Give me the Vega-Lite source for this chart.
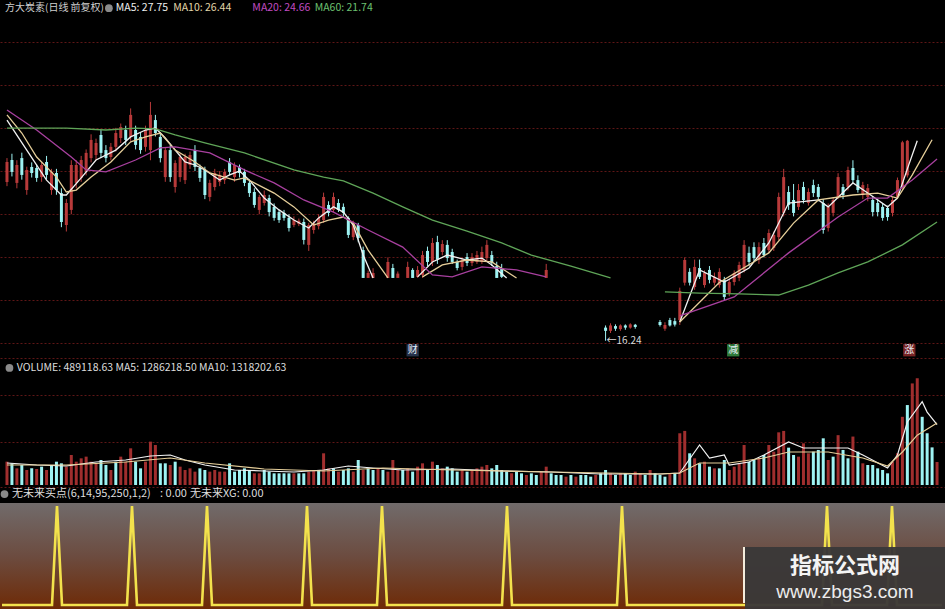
{
"$schema": "https://vega.github.io/schema/vega-lite/v6.json",
"background": "#000000",
"padding": 0,
"spacing": 0,
"config": {"view": {"stroke": null}, "axis": {"minExtent": 0, "maxExtent": 0}, "font": "Noto Sans CJK SC"},
"datasets": {
"bars": [
{"i":0,"o":23.59,"c":24.52,"h":24.7,"l":23.4,"v":496000,"vu":1,"s":0},
{"i":1,"o":24.61,"c":24.06,"h":24.9,"l":23.85,"v":461000,"vu":0,"s":0},
{"i":2,"o":23.55,"c":24.38,"h":24.6,"l":23.3,"v":354000,"vu":1,"s":0},
{"i":3,"o":24.7,"c":23.92,"h":24.95,"l":23.7,"v":425000,"vu":0,"s":0},
{"i":4,"o":23.22,"c":24.15,"h":24.3,"l":23.0,"v":319000,"vu":1,"s":0},
{"i":5,"o":24.29,"c":24.01,"h":24.5,"l":23.8,"v":354000,"vu":0,"s":0},
{"i":6,"o":24.24,"c":23.78,"h":24.4,"l":23.6,"v":340000,"vu":1,"s":0},
{"i":7,"o":23.82,"c":24.38,"h":24.5,"l":23.6,"v":390000,"vu":0,"s":0},
{"i":8,"o":24.52,"c":23.92,"h":24.8,"l":23.7,"v":319000,"vu":1,"s":0},
{"i":9,"o":23.22,"c":24.06,"h":24.2,"l":23.0,"v":425000,"vu":0,"s":0},
{"i":10,"o":24.01,"c":23.22,"h":24.2,"l":23.0,"v":496000,"vu":0,"s":0},
{"i":11,"o":23.08,"c":21.74,"h":23.3,"l":21.5,"v":461000,"vu":0,"s":1},
{"i":12,"o":21.6,"c":22.62,"h":22.8,"l":21.3,"v":390000,"vu":1,"s":0},
{"i":13,"o":22.3,"c":24.38,"h":24.6,"l":22.1,"v":638000,"vu":1,"s":0},
{"i":14,"o":23.55,"c":24.38,"h":24.6,"l":23.3,"v":496000,"vu":1,"s":0},
{"i":15,"o":23.78,"c":24.61,"h":24.8,"l":23.6,"v":567000,"vu":1,"s":0},
{"i":16,"o":24.06,"c":24.94,"h":25.1,"l":23.9,"v":603000,"vu":1,"s":0},
{"i":17,"o":24.7,"c":25.54,"h":25.8,"l":24.5,"v":496000,"vu":1,"s":0},
{"i":18,"o":24.84,"c":25.4,"h":25.6,"l":24.6,"v":461000,"vu":1,"s":0},
{"i":19,"o":25.77,"c":24.94,"h":26.0,"l":24.7,"v":532000,"vu":0,"s":0},
{"i":20,"o":25.07,"c":24.7,"h":25.3,"l":24.5,"v":425000,"vu":0,"s":0},
{"i":21,"o":24.75,"c":25.22,"h":25.4,"l":24.6,"v":319000,"vu":1,"s":0},
{"i":22,"o":25.22,"c":25.86,"h":26.1,"l":25.0,"v":496000,"vu":0,"s":0},
{"i":23,"o":25.63,"c":26.14,"h":26.3,"l":25.4,"v":603000,"vu":1,"s":0},
{"i":24,"o":26.0,"c":25.54,"h":26.2,"l":25.3,"v":496000,"vu":1,"s":0},
{"i":25,"o":25.68,"c":26.7,"h":27.0,"l":25.5,"v":780000,"vu":1,"s":0},
{"i":26,"o":26.0,"c":25.31,"h":26.2,"l":25.1,"v":496000,"vu":0,"s":1},
{"i":27,"o":25.68,"c":25.07,"h":25.9,"l":24.9,"v":354000,"vu":0,"s":0},
{"i":28,"o":25.22,"c":26.0,"h":26.2,"l":25.0,"v":496000,"vu":1,"s":0},
{"i":29,"o":25.07,"c":26.7,"h":27.3,"l":24.6,"v":922000,"vu":1,"s":0},
{"i":30,"o":26.46,"c":25.86,"h":26.7,"l":25.7,"v":851000,"vu":1,"s":0},
{"i":31,"o":25.68,"c":24.7,"h":25.9,"l":24.5,"v":461000,"vu":0,"s":0},
{"i":32,"o":23.82,"c":25.07,"h":25.2,"l":23.6,"v":461000,"vu":0,"s":0},
{"i":33,"o":25.07,"c":23.82,"h":25.3,"l":23.6,"v":425000,"vu":1,"s":0},
{"i":34,"o":23.36,"c":24.47,"h":24.6,"l":23.1,"v":496000,"vu":0,"s":0},
{"i":35,"o":23.82,"c":24.75,"h":24.9,"l":23.6,"v":390000,"vu":1,"s":0},
{"i":36,"o":23.68,"c":24.75,"h":24.9,"l":23.5,"v":319000,"vu":1,"s":0},
{"i":37,"o":24.38,"c":24.84,"h":25.0,"l":24.2,"v":354000,"vu":1,"s":0},
{"i":38,"o":25.07,"c":24.29,"h":25.3,"l":24.1,"v":284000,"vu":1,"s":0},
{"i":39,"o":24.24,"c":23.78,"h":24.4,"l":23.6,"v":354000,"vu":0,"s":0},
{"i":40,"o":24.15,"c":22.99,"h":24.3,"l":22.8,"v":319000,"vu":0,"s":0},
{"i":41,"o":22.9,"c":23.55,"h":23.7,"l":22.7,"v":284000,"vu":1,"s":1},
{"i":42,"o":23.36,"c":24.01,"h":24.2,"l":23.2,"v":319000,"vu":1,"s":0},
{"i":43,"o":23.59,"c":23.92,"h":24.1,"l":23.4,"v":284000,"vu":1,"s":0},
{"i":44,"o":23.68,"c":24.06,"h":24.2,"l":23.5,"v":284000,"vu":1,"s":0},
{"i":45,"o":24.52,"c":24.06,"h":24.7,"l":23.9,"v":461000,"vu":0,"s":0},
{"i":46,"o":23.82,"c":24.38,"h":24.5,"l":23.6,"v":284000,"vu":0,"s":0},
{"i":47,"o":24.29,"c":24.01,"h":24.4,"l":23.8,"v":319000,"vu":0,"s":0},
{"i":48,"o":24.06,"c":23.55,"h":24.2,"l":23.4,"v":354000,"vu":0,"s":0},
{"i":49,"o":23.55,"c":23.08,"h":23.7,"l":22.9,"v":319000,"vu":0,"s":0},
{"i":50,"o":23.13,"c":22.53,"h":23.3,"l":22.4,"v":248000,"vu":1,"s":0},
{"i":51,"o":22.3,"c":22.9,"h":23.0,"l":22.1,"v":248000,"vu":1,"s":0},
{"i":52,"o":22.62,"c":22.99,"h":23.2,"l":22.5,"v":319000,"vu":0,"s":0},
{"i":53,"o":22.85,"c":22.2,"h":23.0,"l":22.0,"v":284000,"vu":0,"s":0},
{"i":54,"o":22.44,"c":21.93,"h":22.6,"l":21.8,"v":248000,"vu":0,"s":0},
{"i":55,"o":22.2,"c":21.83,"h":22.3,"l":21.7,"v":248000,"vu":0,"s":0},
{"i":56,"o":22.16,"c":21.93,"h":22.3,"l":21.8,"v":248000,"vu":0,"s":0},
{"i":57,"o":21.93,"c":21.46,"h":22.1,"l":21.3,"v":248000,"vu":0,"s":0},
{"i":58,"o":21.6,"c":21.83,"h":22.0,"l":21.5,"v":248000,"vu":1,"s":0},
{"i":59,"o":21.65,"c":21.8,"h":21.9,"l":21.55,"v":248000,"vu":0,"s":0},
{"i":60,"o":21.74,"c":20.91,"h":21.9,"l":20.7,"v":248000,"vu":0,"s":0},
{"i":61,"o":20.68,"c":21.6,"h":21.7,"l":20.4,"v":284000,"vu":1,"s":1},
{"i":62,"o":21.37,"c":21.69,"h":21.8,"l":21.2,"v":319000,"vu":1,"s":0},
{"i":63,"o":21.55,"c":21.93,"h":22.1,"l":21.4,"v":319000,"vu":0,"s":0},
{"i":64,"o":21.83,"c":22.9,"h":23.1,"l":21.7,"v":674000,"vu":1,"s":0},
{"i":65,"o":22.53,"c":22.16,"h":22.7,"l":22.0,"v":354000,"vu":1,"s":0},
{"i":66,"o":22.3,"c":22.9,"h":23.1,"l":22.2,"v":354000,"vu":0,"s":0},
{"i":67,"o":22.62,"c":22.3,"h":22.8,"l":22.2,"v":284000,"vu":1,"s":0},
{"i":68,"o":22.44,"c":22.16,"h":22.6,"l":22.0,"v":319000,"vu":0,"s":0},
{"i":69,"o":21.93,"c":21.14,"h":22.0,"l":21.0,"v":354000,"vu":0,"s":0},
{"i":70,"o":21.04,"c":21.69,"h":21.8,"l":20.9,"v":284000,"vu":1,"s":0},
{"i":71,"o":21.6,"c":21.0,"h":21.7,"l":20.8,"v":532000,"vu":0,"s":0},
{"i":72,"o":20.44,"c":19.15,"h":20.6,"l":19.15,"v":319000,"vu":1,"s":0},
{"i":73,"o":19.15,"c":19.38,"h":19.5,"l":19.15,"v":354000,"vu":0,"s":0},
{"i":74,"o":19.15,"c":19.38,"h":19.6,"l":19.15,"v":319000,"vu":0,"s":0},
{"i":75,"v":354000,"vu":1,"s":0},
{"i":76,"v":319000,"vu":0,"s":1},
{"i":77,"o":19.15,"c":19.89,"h":20.1,"l":19.15,"v":284000,"vu":1,"s":0},
{"i":78,"o":19.61,"c":19.15,"h":19.8,"l":19.15,"v":532000,"vu":1,"s":0},
{"i":79,"o":19.15,"c":19.35,"h":19.45,"l":19.15,"v":319000,"vu":1,"s":0},
{"i":80,"v":319000,"vu":0,"s":0},
{"i":81,"o":19.15,"c":19.66,"h":19.9,"l":19.15,"v":354000,"vu":1,"s":0},
{"i":82,"o":19.52,"c":19.15,"h":19.6,"l":19.15,"v":284000,"vu":0,"s":0},
{"i":83,"o":19.2,"c":19.52,"h":19.7,"l":19.15,"v":390000,"vu":1,"s":0},
{"i":84,"o":19.29,"c":20.21,"h":20.4,"l":19.15,"v":461000,"vu":1,"s":0},
{"i":85,"o":20.4,"c":19.89,"h":20.6,"l":19.7,"v":319000,"vu":0,"s":0},
{"i":86,"o":19.89,"c":20.77,"h":21.0,"l":19.7,"v":496000,"vu":1,"s":0},
{"i":87,"o":20.81,"c":20.0,"h":21.1,"l":19.8,"v":425000,"vu":0,"s":0},
{"i":88,"o":20.35,"c":20.72,"h":20.9,"l":20.2,"v":354000,"vu":1,"s":0},
{"i":89,"o":20.68,"c":20.07,"h":20.9,"l":19.9,"v":390000,"vu":0,"s":0},
{"i":90,"o":20.35,"c":19.89,"h":20.5,"l":19.8,"v":354000,"vu":0,"s":0},
{"i":91,"o":19.89,"c":19.61,"h":20.0,"l":19.5,"v":284000,"vu":0,"s":0},
{"i":92,"o":19.66,"c":19.98,"h":20.1,"l":19.5,"v":319000,"vu":1,"s":0},
{"i":93,"o":20.12,"c":19.84,"h":20.3,"l":19.7,"v":284000,"vu":0,"s":0},
{"i":94,"o":19.84,"c":20.12,"h":20.3,"l":19.7,"v":319000,"vu":1,"s":0},
{"i":95,"o":19.89,"c":20.21,"h":20.4,"l":19.8,"v":354000,"vu":1,"s":0},
{"i":96,"o":19.89,"c":20.35,"h":20.6,"l":19.8,"v":390000,"vu":1,"s":0},
{"i":97,"o":20.07,"c":20.68,"h":20.9,"l":19.9,"v":425000,"vu":1,"s":0},
{"i":98,"o":20.21,"c":19.84,"h":20.4,"l":19.7,"v":354000,"vu":0,"s":0},
{"i":99,"o":19.7,"c":19.15,"h":19.9,"l":19.15,"v":425000,"vu":0,"s":0},
{"i":100,"o":19.61,"c":19.2,"h":19.8,"l":19.15,"v":319000,"vu":0,"s":0},
{"i":101,"v":284000,"vu":0,"s":1},
{"i":102,"v":248000,"vu":1,"s":0},
{"i":103,"v":284000,"vu":0,"s":0},
{"i":104,"v":248000,"vu":0,"s":0},
{"i":105,"v":213000,"vu":1,"s":0},
{"i":106,"v":248000,"vu":0,"s":0},
{"i":107,"v":213000,"vu":0,"s":0},
{"i":108,"v":284000,"vu":1,"s":0},
{"i":109,"o":19.15,"c":19.52,"h":19.8,"l":19.15,"v":390000,"vu":1,"s":0},
{"i":110,"v":248000,"vu":0,"s":0},
{"i":111,"v":213000,"vu":0,"s":0},
{"i":112,"v":213000,"vu":0,"s":0},
{"i":113,"v":177000,"vu":1,"s":0},
{"i":114,"v":213000,"vu":0,"s":0},
{"i":115,"v":177000,"vu":1,"s":0},
{"i":116,"v":213000,"vu":0,"s":0},
{"i":117,"v":213000,"vu":0,"s":0},
{"i":118,"v":177000,"vu":0,"s":0},
{"i":119,"v":213000,"vu":1,"s":0},
{"i":120,"v":248000,"vu":0,"s":0},
{"i":121,"o":16.85,"c":16.7,"h":16.95,"l":16.24,"v":319000,"vu":0,"s":0},
{"i":122,"o":16.7,"c":16.95,"h":17.05,"l":16.6,"v":248000,"vu":1,"s":0},
{"i":123,"o":16.92,"c":16.8,"h":17.0,"l":16.7,"v":213000,"vu":0,"s":0},
{"i":124,"o":16.78,"c":16.95,"h":17.0,"l":16.7,"v":248000,"vu":1,"s":1},
{"i":125,"o":16.95,"c":16.85,"h":17.0,"l":16.75,"v":248000,"vu":0,"s":0},
{"i":126,"o":16.85,"c":17.0,"h":17.05,"l":16.8,"v":213000,"vu":0,"s":0},
{"i":127,"o":16.98,"c":16.88,"h":17.02,"l":16.8,"v":284000,"vu":1,"s":0},
{"i":128,"v":248000,"vu":1,"s":0},
{"i":129,"v":213000,"vu":0,"s":0},
{"i":130,"v":319000,"vu":1,"s":0},
{"i":131,"v":248000,"vu":0,"s":0},
{"i":132,"o":17.11,"c":16.97,"h":17.2,"l":16.9,"v":213000,"vu":0,"s":0},
{"i":133,"o":16.8,"c":16.97,"h":17.1,"l":16.7,"v":177000,"vu":0,"s":0},
{"i":134,"o":17.2,"c":16.95,"h":17.3,"l":16.9,"v":248000,"vu":1,"s":0},
{"i":135,"o":17.15,"c":16.99,"h":17.3,"l":16.9,"v":248000,"vu":0,"s":0},
{"i":136,"o":17.2,"c":18.55,"h":18.7,"l":16.97,"v":1100000,"vu":1,"s":0},
{"i":137,"o":18.93,"c":19.98,"h":20.1,"l":18.8,"v":1150000,"vu":1,"s":0},
{"i":138,"o":19.43,"c":18.93,"h":19.6,"l":18.8,"v":674000,"vu":0,"s":0},
{"i":139,"o":18.73,"c":19.66,"h":20.0,"l":18.6,"v":567000,"vu":1,"s":0},
{"i":140,"o":19.61,"c":19.2,"h":20.0,"l":19.1,"v":461000,"vu":0,"s":0},
{"i":141,"o":18.82,"c":19.38,"h":19.5,"l":18.7,"v":496000,"vu":1,"s":0},
{"i":142,"o":19.52,"c":19.06,"h":19.7,"l":18.9,"v":390000,"vu":0,"s":0},
{"i":143,"o":18.93,"c":19.2,"h":19.4,"l":18.8,"v":354000,"vu":1,"s":0},
{"i":144,"o":18.82,"c":19.43,"h":19.6,"l":18.7,"v":354000,"vu":0,"s":0},
{"i":145,"o":19.06,"c":18.27,"h":19.2,"l":18.1,"v":532000,"vu":0,"s":0},
{"i":146,"o":18.45,"c":18.96,"h":19.1,"l":18.3,"v":319000,"vu":1,"s":0},
{"i":147,"o":18.96,"c":19.38,"h":19.5,"l":18.8,"v":390000,"vu":1,"s":0},
{"i":148,"o":19.15,"c":19.75,"h":19.9,"l":19.0,"v":461000,"vu":1,"s":0},
{"i":149,"o":19.52,"c":20.68,"h":20.9,"l":19.4,"v":851000,"vu":1,"s":0},
{"i":150,"o":20.31,"c":19.89,"h":20.6,"l":19.7,"v":496000,"vu":0,"s":0},
{"i":151,"o":20.58,"c":20.07,"h":20.8,"l":19.9,"v":532000,"vu":0,"s":0},
{"i":152,"o":19.98,"c":20.58,"h":20.8,"l":19.8,"v":567000,"vu":1,"s":0},
{"i":153,"o":20.77,"c":20.21,"h":21.0,"l":20.1,"v":638000,"vu":0,"s":0},
{"i":154,"o":20.44,"c":21.23,"h":21.4,"l":20.3,"v":851000,"vu":1,"s":0},
{"i":155,"o":20.54,"c":21.14,"h":21.3,"l":20.4,"v":709000,"vu":1,"s":0},
{"i":156,"o":21.04,"c":22.9,"h":23.1,"l":20.9,"v":1120000,"vu":1,"s":0},
{"i":157,"o":22.16,"c":23.82,"h":24.2,"l":22.0,"v":1150000,"vu":1,"s":0},
{"i":158,"o":23.13,"c":22.53,"h":23.4,"l":22.3,"v":794000,"vu":0,"s":0},
{"i":159,"o":22.76,"c":22.16,"h":23.5,"l":22.0,"v":638000,"vu":0,"s":0},
{"i":160,"o":22.44,"c":23.22,"h":23.5,"l":22.3,"v":603000,"vu":1,"s":0},
{"i":161,"o":23.36,"c":22.76,"h":23.6,"l":22.6,"v":886000,"vu":1,"s":0},
{"i":162,"o":22.62,"c":23.13,"h":23.3,"l":22.5,"v":674000,"vu":1,"s":0},
{"i":163,"o":23.45,"c":23.08,"h":23.7,"l":22.9,"v":709000,"vu":0,"s":0},
{"i":164,"o":23.36,"c":22.9,"h":23.5,"l":22.7,"v":745000,"vu":0,"s":0},
{"i":165,"o":22.62,"c":21.37,"h":22.8,"l":21.2,"v":993000,"vu":0,"s":1},
{"i":166,"o":21.46,"c":22.44,"h":22.6,"l":21.3,"v":532000,"vu":1,"s":0},
{"i":167,"o":22.16,"c":22.76,"h":22.9,"l":22.0,"v":603000,"vu":0,"s":0},
{"i":168,"o":22.9,"c":23.82,"h":24.0,"l":22.8,"v":1060000,"vu":1,"s":0},
{"i":169,"o":23.36,"c":22.99,"h":23.5,"l":22.8,"v":745000,"vu":0,"s":0},
{"i":170,"o":23.36,"c":24.15,"h":24.3,"l":23.2,"v":567000,"vu":0,"s":0},
{"i":171,"o":24.24,"c":23.68,"h":24.6,"l":23.5,"v":1030000,"vu":1,"s":0},
{"i":172,"o":23.68,"c":23.22,"h":23.9,"l":23.1,"v":709000,"vu":0,"s":0},
{"i":173,"o":22.99,"c":23.45,"h":23.6,"l":22.8,"v":461000,"vu":1,"s":0},
{"i":174,"o":22.9,"c":23.31,"h":23.5,"l":22.7,"v":425000,"vu":0,"s":0},
{"i":175,"o":22.76,"c":22.2,"h":22.9,"l":22.0,"v":425000,"vu":0,"s":0},
{"i":176,"o":22.62,"c":22.2,"h":22.8,"l":22.0,"v":354000,"vu":0,"s":0},
{"i":177,"o":22.44,"c":21.93,"h":22.6,"l":21.8,"v":319000,"vu":0,"s":0},
{"i":178,"o":22.39,"c":21.97,"h":22.5,"l":21.8,"v":248000,"vu":0,"s":1},
{"i":179,"o":22.16,"c":22.76,"h":22.9,"l":22.0,"v":496000,"vu":1,"s":0},
{"i":180,"o":22.9,"c":23.68,"h":23.8,"l":22.8,"v":674000,"vu":1,"s":0},
{"i":181,"o":23.31,"c":25.43,"h":25.5,"l":23.2,"v":1450000,"vu":1,"s":0},
{"i":182,"o":23.9,"c":25.5,"h":25.54,"l":23.8,"v":1700000,"vu":0,"s":0},
{"i":183,"v":2160000,"vu":1,"s":0},
{"i":184,"v":2270000,"vu":1,"s":0},
{"i":185,"v":1450000,"vu":0,"s":0},
{"i":186,"v":1100000,"vu":0,"s":0},
{"i":187,"v":800000,"vu":0,"s":0},
{"i":188,"v":489118.63,"vu":1,"s":0}
],
"ma": [
{"s":"MA5","g":"a","i":0,"p":26.46},{"s":"MA5","g":"a","i":4,"p":25.07},{"s":"MA5","g":"a","i":8,"p":23.68},{"s":"MA5","g":"a","i":11,"p":22.99},{"s":"MA5","g":"a","i":12,"p":22.99},{"s":"MA5","g":"a","i":15,"p":23.78},{"s":"MA5","g":"a","i":18,"p":24.61},{"s":"MA5","g":"a","i":22,"p":25.07},{"s":"MA5","g":"a","i":25,"p":25.68},{"s":"MA5","g":"a","i":28,"p":26.0},{"s":"MA5","g":"a","i":30,"p":26.09},{"s":"MA5","g":"a","i":32,"p":25.63},{"s":"MA5","g":"a","i":34,"p":25.07},{"s":"MA5","g":"a","i":36,"p":24.52},{"s":"MA5","g":"a","i":38,"p":24.38},{"s":"MA5","g":"a","i":40,"p":24.15},{"s":"MA5","g":"a","i":43,"p":23.68},{"s":"MA5","g":"a","i":45,"p":23.92},{"s":"MA5","g":"a","i":47,"p":24.1},{"s":"MA5","g":"a","i":49,"p":23.68},{"s":"MA5","g":"a","i":52,"p":22.85},{"s":"MA5","g":"a","i":55,"p":22.3},{"s":"MA5","g":"a","i":58,"p":21.83},{"s":"MA5","g":"a","i":61,"p":21.46},{"s":"MA5","g":"a","i":63,"p":21.93},{"s":"MA5","g":"a","i":66,"p":22.44},{"s":"MA5","g":"a","i":68,"p":22.2},{"s":"MA5","g":"a","i":70,"p":21.6},{"s":"MA5","g":"a","i":72,"p":20.21},{"s":"MA5","g":"a","i":74,"p":19.15},
{"s":"MA5","g":"b","i":83,"p":19.2},{"s":"MA5","g":"b","i":86,"p":19.89},{"s":"MA5","g":"b","i":89,"p":20.21},{"s":"MA5","g":"b","i":93,"p":19.98},{"s":"MA5","g":"b","i":96,"p":20.07},{"s":"MA5","g":"b","i":98,"p":19.75},{"s":"MA5","g":"b","i":101,"p":19.15},
{"s":"MA5","g":"c","i":136,"p":17.11},{"s":"MA5","g":"c","i":140,"p":19.52},{"s":"MA5","g":"c","i":145,"p":18.96},{"s":"MA5","g":"c","i":150,"p":19.61},{"s":"MA5","g":"c","i":154,"p":20.77},{"s":"MA5","g":"c","i":158,"p":22.62},{"s":"MA5","g":"c","i":164,"p":22.76},{"s":"MA5","g":"c","i":166,"p":22.44},{"s":"MA5","g":"c","i":171,"p":23.55},{"s":"MA5","g":"c","i":174,"p":23.08},{"s":"MA5","g":"c","i":178,"p":22.44},{"s":"MA5","g":"c","i":180,"p":22.85},{"s":"MA5","g":"c","i":182,"p":24.2},{"s":"MA5","g":"c","i":184,"p":25.5},
{"s":"MA10","g":"a","i":0,"p":26.7},{"s":"MA10","g":"a","i":3,"p":25.86},{"s":"MA10","g":"a","i":6,"p":24.75},{"s":"MA10","g":"a","i":10,"p":23.82},{"s":"MA10","g":"a","i":12,"p":23.13},{"s":"MA10","g":"a","i":14,"p":23.22},{"s":"MA10","g":"a","i":17,"p":23.82},{"s":"MA10","g":"a","i":21,"p":24.52},{"s":"MA10","g":"a","i":25,"p":25.45},{"s":"MA10","g":"a","i":28,"p":25.68},{"s":"MA10","g":"a","i":31,"p":25.86},{"s":"MA10","g":"a","i":34,"p":25.07},{"s":"MA10","g":"a","i":38,"p":24.52},{"s":"MA10","g":"a","i":41,"p":24.01},{"s":"MA10","g":"a","i":46,"p":23.68},{"s":"MA10","g":"a","i":48,"p":23.78},{"s":"MA10","g":"a","i":54,"p":23.08},{"s":"MA10","g":"a","i":58,"p":22.44},{"s":"MA10","g":"a","i":62,"p":21.6},{"s":"MA10","g":"a","i":65,"p":21.83},{"s":"MA10","g":"a","i":68,"p":21.97},{"s":"MA10","g":"a","i":70,"p":21.69},{"s":"MA10","g":"a","i":73,"p":20.44},{"s":"MA10","g":"a","i":77,"p":19.15},
{"s":"MA10","g":"b","i":84,"p":19.2},{"s":"MA10","g":"b","i":88,"p":19.75},{"s":"MA10","g":"b","i":93,"p":19.98},{"s":"MA10","g":"b","i":98,"p":19.89},{"s":"MA10","g":"b","i":103,"p":19.15},
{"s":"MA10","g":"c","i":136,"p":17.11},{"s":"MA10","g":"c","i":144,"p":18.94},{"s":"MA10","g":"c","i":154,"p":20.31},{"s":"MA10","g":"c","i":159,"p":21.69},{"s":"MA10","g":"c","i":164,"p":22.76},{"s":"MA10","g":"c","i":171,"p":22.99},{"s":"MA10","g":"c","i":176,"p":23.08},{"s":"MA10","g":"c","i":180,"p":22.85},{"s":"MA10","g":"c","i":183,"p":23.92},{"s":"MA10","g":"c","i":187,"p":25.55},
{"s":"MA20","g":"a","i":0,"p":26.93},{"s":"MA20","g":"a","i":6,"p":26.0},{"s":"MA20","g":"a","i":13,"p":24.75},{"s":"MA20","g":"a","i":16,"p":24.15},{"s":"MA20","g":"a","i":20,"p":24.06},{"s":"MA20","g":"a","i":26,"p":24.61},{"s":"MA20","g":"a","i":31,"p":25.17},{"s":"MA20","g":"a","i":34,"p":25.22},{"s":"MA20","g":"a","i":41,"p":24.94},{"s":"MA20","g":"a","i":48,"p":24.15},{"s":"MA20","g":"a","i":54,"p":23.55},{"s":"MA20","g":"a","i":60,"p":22.76},{"s":"MA20","g":"a","i":66,"p":22.2},{"s":"MA20","g":"a","i":73,"p":21.37},{"s":"MA20","g":"a","i":80,"p":20.58},{"s":"MA20","g":"a","i":86,"p":19.29},{"s":"MA20","g":"a","i":90,"p":19.2},{"s":"MA20","g":"a","i":96,"p":19.66},{"s":"MA20","g":"a","i":103,"p":19.52},{"s":"MA20","g":"a","i":109,"p":19.2},
{"s":"MA20","g":"c","i":136,"p":17.39},{"s":"MA20","g":"c","i":147,"p":18.27},{"s":"MA20","g":"c","i":158,"p":20.31},{"s":"MA20","g":"c","i":168,"p":21.97},{"s":"MA20","g":"c","i":174,"p":22.85},{"s":"MA20","g":"c","i":178,"p":22.85},{"s":"MA20","g":"c","i":183,"p":23.68},{"s":"MA20","g":"c","i":188,"p":24.66},
{"s":"MA60","g":"a","i":0,"p":26.09},{"s":"MA60","g":"a","i":12,"p":26.09},{"s":"MA60","g":"a","i":20,"p":26.0},{"s":"MA60","g":"a","i":26,"p":26.09},{"s":"MA60","g":"a","i":30,"p":26.05},{"s":"MA60","g":"a","i":34,"p":25.77},{"s":"MA60","g":"a","i":40,"p":25.4},{"s":"MA60","g":"a","i":48,"p":24.94},{"s":"MA60","g":"a","i":58,"p":24.15},{"s":"MA60","g":"a","i":64,"p":23.82},{"s":"MA60","g":"a","i":68,"p":23.64},{"s":"MA60","g":"a","i":74,"p":23.08},{"s":"MA60","g":"a","i":80,"p":22.44},{"s":"MA60","g":"a","i":86,"p":21.83},{"s":"MA60","g":"a","i":93,"p":21.32},{"s":"MA60","g":"a","i":100,"p":20.77},{"s":"MA60","g":"a","i":106,"p":20.21},{"s":"MA60","g":"a","i":114,"p":19.7},{"s":"MA60","g":"a","i":122,"p":19.15},
{"s":"MA60","g":"c","i":133,"p":18.5},{"s":"MA60","g":"c","i":140,"p":18.45},{"s":"MA60","g":"c","i":148,"p":18.41},{"s":"MA60","g":"c","i":156,"p":18.36},{"s":"MA60","g":"c","i":162,"p":18.82},{"s":"MA60","g":"c","i":168,"p":19.38},{"s":"MA60","g":"c","i":174,"p":19.89},{"s":"MA60","g":"c","i":181,"p":20.68},{"s":"MA60","g":"c","i":188,"p":21.74}
],
"vma": [
{"s":"V5","i":0,"v":468000},{"s":"V5","i":6,"v":425000},{"s":"V5","i":12,"v":404000},{"s":"V5","i":18,"v":489000},{"s":"V5","i":24,"v":532000},{"s":"V5","i":29,"v":617000},{"s":"V5","i":33,"v":638000},{"s":"V5","i":36,"v":532000},{"s":"V5","i":40,"v":425000},{"s":"V5","i":46,"v":319000},{"s":"V5","i":52,"v":298000},{"s":"V5","i":58,"v":276000},{"s":"V5","i":64,"v":319000},{"s":"V5","i":69,"v":404000},{"s":"V5","i":74,"v":361000},{"s":"V5","i":80,"v":319000},{"s":"V5","i":90,"v":340000},{"s":"V5","i":100,"v":298000},{"s":"V5","i":110,"v":276000},{"s":"V5","i":120,"v":234000},{"s":"V5","i":132,"v":234000},{"s":"V5","i":136,"v":255000},{"s":"V5","i":140,"v":851000},{"s":"V5","i":142,"v":574000},{"s":"V5","i":145,"v":638000},{"s":"V5","i":146,"v":425000},{"s":"V5","i":150,"v":489000},{"s":"V5","i":153,"v":638000},{"s":"V5","i":158,"v":914000},{"s":"V5","i":161,"v":787000},{"s":"V5","i":166,"v":787000},{"s":"V5","i":170,"v":787000},{"s":"V5","i":173,"v":638000},{"s":"V5","i":178,"v":361000},{"s":"V5","i":180,"v":638000},{"s":"V5","i":182,"v":1340000},{"s":"V5","i":185,"v":1770000},{"s":"V5","i":186,"v":1550000},{"s":"V5","i":188,"v":1286218.5},
{"s":"V10","i":0,"v":425000},{"s":"V10","i":12,"v":425000},{"s":"V10","i":24,"v":489000},{"s":"V10","i":33,"v":574000},{"s":"V10","i":40,"v":468000},{"s":"V10","i":52,"v":340000},{"s":"V10","i":64,"v":298000},{"s":"V10","i":76,"v":361000},{"s":"V10","i":90,"v":319000},{"s":"V10","i":110,"v":276000},{"s":"V10","i":132,"v":234000},{"s":"V10","i":136,"v":255000},{"s":"V10","i":140,"v":468000},{"s":"V10","i":146,"v":468000},{"s":"V10","i":153,"v":574000},{"s":"V10","i":158,"v":702000},{"s":"V10","i":166,"v":702000},{"s":"V10","i":173,"v":574000},{"s":"V10","i":178,"v":404000},{"s":"V10","i":181,"v":702000},{"s":"V10","i":184,"v":1060000},{"s":"V10","i":188,"v":1318202.63}
]
},
"vconcat": [
{
"width": 945, "height": 360,
"layer": [
{"data": {"name": "bars"},
 "mark": {"type": "rule", "strokeWidth": 1, "clip": true},
 "encoding": {
  "x": {"field": "i", "type": "quantitative", "scale": {"domain": [-0.4, 188.6], "nice": false, "zero": false}, "axis": null},
  "y": {"field": "l", "type": "quantitative", "scale": {"domain": [15.35, 32.02], "nice": false, "zero": false},
        "axis": {"grid": true, "values": [30.07, 28.08, 26.09, 24.1, 22.11, 20.12, 18.13, 16.14, 15.44], "labels": false, "ticks": false, "domain": false, "title": null, "gridColor": "#5e1616", "gridDash": [2, 2], "gridWidth": 1}},
  "y2": {"field": "h"},
  "color": {"condition": {"test": "datum.c >= datum.o", "value": "#b83a3a"}, "value": "#9ef3f3"}
 }},
{"data": {"name": "bars"},
 "mark": {"type": "bar", "width": 3, "clip": true},
 "encoding": {
  "x": {"field": "i", "type": "quantitative"},
  "y": {"field": "o", "type": "quantitative"},
  "y2": {"field": "c"},
  "color": {"condition": {"test": "datum.c >= datum.o", "value": "#b83a3a"}, "value": "#9ef3f3"}
 }},
{"data": {"name": "ma"},
 "mark": {"type": "line", "strokeWidth": 1.3, "clip": true},
 "encoding": {
  "x": {"field": "i", "type": "quantitative"},
  "y": {"field": "p", "type": "quantitative"},
  "detail": {"field": "g"},
  "color": {"field": "s", "type": "nominal", "scale": {"domain": ["MA5", "MA10", "MA20", "MA60"], "range": ["#f2f2f2", "#e6cf9a", "#a8409f", "#5fa558"]}, "legend": null}
 }},
{"data": {"values": [{"t": "方大炭素(日线 前复权)"}]},
 "mark": {"type": "text", "align": "left", "baseline": "middle", "fontSize": 10, "color": "#cfcfcf"},
 "encoding": {"x": {"datum": -0.4}, "y": {"datum": 31.64}, "text": {"field": "t"}}},
{"data": {"values": [{"t": "o"}]},
 "mark": {"type": "point", "filled": true, "size": 60, "color": "#8a8a8a", "opacity": 1},
 "encoding": {"x": {"datum": 20.6}, "y": {"datum": 31.64}}},
{"data": {"values": [{"t": "MA5: 27.75"}]},
 "mark": {"type": "text", "align": "left", "baseline": "middle", "fontSize": 10.5, "color": "#eeeeee"},
 "encoding": {"x": {"datum": 22.0}, "y": {"datum": 31.64}, "text": {"field": "t"}}},
{"data": {"values": [{"t": "MA10: 26.44"}]},
 "mark": {"type": "text", "align": "left", "baseline": "middle", "fontSize": 10.5, "color": "#e2d6a8"},
 "encoding": {"x": {"datum": 33.6}, "y": {"datum": 31.64}, "text": {"field": "t"}}},
{"data": {"values": [{"t": "MA20: 24.66"}]},
 "mark": {"type": "text", "align": "left", "baseline": "middle", "fontSize": 10.5, "color": "#c04cc0"},
 "encoding": {"x": {"datum": 49.6}, "y": {"datum": 31.64}, "text": {"field": "t"}}},
{"data": {"values": [{"t": "MA60: 21.74"}]},
 "mark": {"type": "text", "align": "left", "baseline": "middle", "fontSize": 10.5, "color": "#6cc070"},
 "encoding": {"x": {"datum": 62.2}, "y": {"datum": 31.64}, "text": {"field": "t"}}},
{"data": {"values": [{"t": "←16.24"}]},
 "mark": {"type": "text", "align": "left", "baseline": "middle", "fontSize": 10, "color": "#d8d8d8"},
 "encoding": {"x": {"datum": 121.2}, "y": {"datum": 16.23}, "text": {"field": "t"}}},
{"data": {"values": [{"k": "财", "i": 82.0, "c": "#26324c"}, {"k": "减", "i": 146.8, "c": "#2f7a3a"}, {"k": "涨", "i": 182.4, "c": "#7a2424"}]},
 "mark": {"type": "square", "filled": true, "size": 150, "opacity": 1},
 "encoding": {"x": {"field": "i", "type": "quantitative"}, "y": {"datum": 15.8}, "color": {"field": "c", "type": "nominal", "scale": null}}},
{"data": {"values": [{"k": "财", "i": 82.0}, {"k": "减", "i": 146.8}, {"k": "涨", "i": 182.4}]},
 "mark": {"type": "text", "fontSize": 10, "color": "#e8eef8", "baseline": "middle"},
 "encoding": {"x": {"field": "i", "type": "quantitative"}, "y": {"datum": 15.8}, "text": {"field": "k"}}}
]
},
{
"width": 945, "height": 125,
"layer": [
{"data": {"name": "bars"},
 "mark": {"type": "bar", "width": 3, "clip": true},
 "encoding": {
  "x": {"field": "i", "type": "quantitative", "scale": {"domain": [-0.4, 188.6], "nice": false, "zero": false}, "axis": null},
  "y": {"field": "v", "type": "quantitative", "scale": {"domain": [0, 2658000], "nice": false},
        "axis": {"grid": true, "values": [1914000, 914000], "labels": false, "ticks": false, "domain": false, "title": null, "gridColor": "#5e1616", "gridDash": [2, 2], "gridWidth": 1}},
  "color": {"condition": {"test": "datum.vu == 1", "value": "#a02e2e"}, "value": "#9ef3f3"}
 }},
{"data": {"name": "vma"},
 "mark": {"type": "line", "strokeWidth": 1.2, "clip": true},
 "encoding": {
  "x": {"field": "i", "type": "quantitative"},
  "y": {"field": "v", "type": "quantitative"},
  "color": {"field": "s", "type": "nominal", "scale": {"domain": ["V5", "V10"], "range": ["#eeeeee", "#d9c08e"]}, "legend": null}
 }},
{"data": {"values": [{"t": "o"}]},
 "mark": {"type": "point", "filled": true, "size": 60, "color": "#8a8a8a", "opacity": 1},
 "encoding": {"x": {"datum": 0.5}, "y": {"datum": 2488000}}},
{"data": {"values": [{"t": "VOLUME: 489118.63 MA5: 1286218.50 MA10: 1318202.63"}]},
 "mark": {"type": "text", "align": "left", "baseline": "middle", "fontSize": 10.5, "color": "#dddddd"},
 "encoding": {"x": {"datum": 2.0}, "y": {"datum": 2488000}, "text": {"field": "t"}}}
]
},
{
"width": 945, "height": 124,
"layer": [
{"data": {"values": [{"t": "bg"}]},
 "mark": {"type": "rect", "color": {"gradient": "linear", "x1": 0, "y1": 0, "x2": 0, "y2": 1, "stops": [{"offset": 0, "color": "#716b6b"}, {"offset": 0.5, "color": "#6c4c40"}, {"offset": 1, "color": "#6e2a06"}]}},
 "encoding": {
  "x": {"datum": -0.4, "type": "quantitative", "scale": {"domain": [-0.4, 188.6], "nice": false, "zero": false}, "axis": null},
  "x2": {"datum": 188.6},
  "y": {"datum": 1.0303, "type": "quantitative", "scale": {"domain": [-0.0404, 1.212], "nice": false, "zero": false},
        "axis": {"grid": true, "values": [1.192], "labels": false, "ticks": false, "domain": false, "title": null, "gridColor": "#5e1616", "gridDash": [2, 2], "gridWidth": 1}},
  "y2": {"datum": -0.0404}
 }},
{"data": {"name": "bars"},
 "mark": {"type": "line", "strokeWidth": 2.6, "color": "#f3e24c", "clip": true},
 "encoding": {"x": {"field": "i", "type": "quantitative"}, "y": {"field": "s", "type": "quantitative"}}},
{"data": {"values": [{"t": "o"}]},
 "mark": {"type": "point", "filled": true, "size": 60, "color": "#8a8a8a", "opacity": 1},
 "encoding": {"x": {"datum": 0.5}, "y": {"datum": 1.121}}},
{"data": {"values": [{"t": "无未来买点(6,14,95,250,1,2)"}]},
 "mark": {"type": "text", "align": "left", "baseline": "middle", "fontSize": 11, "color": "#dddddd"},
 "encoding": {"x": {"datum": 2.0}, "y": {"datum": 1.121}, "text": {"field": "t"}}},
{"data": {"values": [{"t": ": 0.00"}]},
 "mark": {"type": "text", "align": "left", "baseline": "middle", "fontSize": 11, "color": "#dddddd"},
 "encoding": {"x": {"datum": 31.6}, "y": {"datum": 1.121}, "text": {"field": "t"}}},
{"data": {"values": [{"t": "无未来XG: 0.00"}]},
 "mark": {"type": "text", "align": "left", "baseline": "middle", "fontSize": 11, "color": "#dddddd"},
 "encoding": {"x": {"datum": 37.6}, "y": {"datum": 1.121}, "text": {"field": "t"}}},
{"data": {"values": [{"t": "wm"}]},
 "mark": {"type": "rect", "color": "#3a3838", "opacity": 0.96},
 "encoding": {"x": {"datum": 148.6}, "x2": {"datum": 188.6}, "y": {"datum": 0.586}, "y2": {"datum": -0.0404}}},
{"data": {"values": [{"t": "wm"}]},
 "mark": {"type": "rule", "color": "#f4ecdc", "strokeWidth": 2},
 "encoding": {"x": {"datum": 148.4}, "y": {"datum": 0.586}, "y2": {"datum": 0.02}}},
{"data": {"values": [{"t": "指标公式网"}]},
 "mark": {"type": "text", "align": "center", "baseline": "middle", "fontSize": 22, "fontWeight": "bold", "color": "#f4f4f4"},
 "encoding": {"x": {"datum": 168.6}, "y": {"datum": 0.39}, "text": {"field": "t"}}},
{"data": {"values": [{"t": "www.zbgs3.com"}]},
 "mark": {"type": "text", "align": "center", "baseline": "middle", "fontSize": 19, "color": "#ececec", "font": "Liberation Sans"},
 "encoding": {"x": {"datum": 168.6}, "y": {"datum": 0.13}, "text": {"field": "t"}}}
]
}
]
}
